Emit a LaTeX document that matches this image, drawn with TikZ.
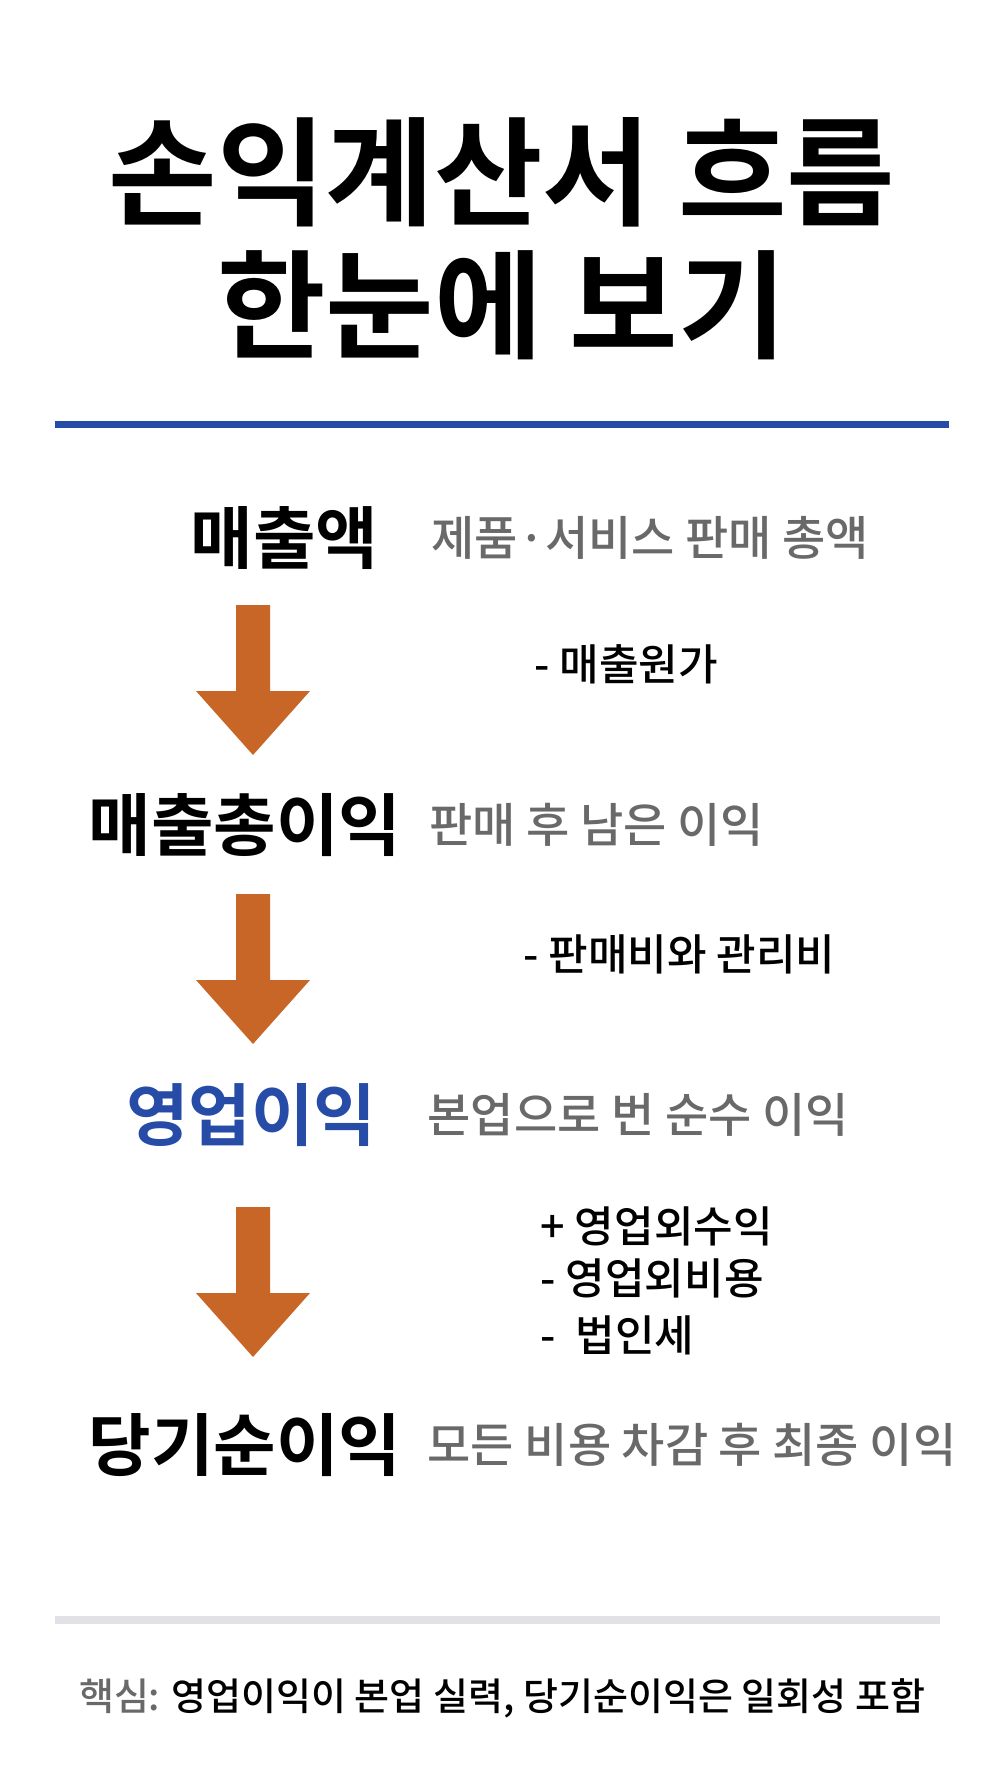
\documentclass[tikz,border=0pt]{standalone}
\usepackage{fontspec}
\setmainfont{Noto Sans CJK KR}
\newfontfamily\krbold{Noto Sans CJK KR Bold}
\newfontfamily\krmed{Noto Sans CJK KR Medium}
\definecolor{flowblue}{RGB}{38,76,168}
\definecolor{flowarrow}{RGB}{200,102,40}
\definecolor{descgray}{RGB}{105,105,105}
\definecolor{rulegray}{RGB}{226,226,230}
\tikzset{every picture/.style={line width=0.75pt}}
\tikzset{
  stage/.style={anchor=east,inner sep=0pt,font=\krbold\fontsize{34}{38}\selectfont},
  desc/.style={anchor=west,inner sep=0pt,text=descgray,font=\krmed\fontsize{23.5}{28}\selectfont},
  step label/.style={anchor=west,inner sep=0pt,font=\krmed\fontsize{21.5}{28}\selectfont,align=left},
}
\newcommand{\flowdown}[1]{%
\fill [flowarrow] (236,#1) -- (270,#1) -- (270,#1+86) -- (310,#1+86) -- (253,#1+150) -- (196,#1+86) -- (236,#1+86) -- cycle ;}

\begin{document}
\begin{tikzpicture}[x=0.5pt,y=-0.5pt]
\fill [white] (0,0) rectangle (1000,1792);
\useasboundingbox (0,0) rectangle (1000,1792);

% Title
\node [font=\krbold\fontsize{59}{66}\selectfont] (titleA) at (502,172) {손익계산서 흐름};
\node [font=\krbold\fontsize{59}{66}\selectfont] (titleB) at (502,305) {한눈에 보기};
\fill [flowblue] (55,421) rectangle (949,428);

% Stages
\node [stage] (sales) at (379,538) {매출액};
\node [desc] (salesD) at (431,538) {제품·서비스 판매 총액};
\flowdown{605}
\node [step label] (cogs) at (534,664) {- 매출원가};

\node [stage] (gross) at (402,825) {매출총이익};
\node [desc] (grossD) at (429,825) {판매 후 남은 이익};
\flowdown{894}
\node [step label] (sga) at (523,954) {- 판매비와 관리비};

\node [stage,text=flowblue] (oper) at (377,1115) {영업이익};
\node [desc] (operD) at (427,1115) {본업으로 번 순수 이익};
\flowdown{1207}
\node [step label] (nonop) at (540,1226) {+ 영업외수익};
\node [step label] (nonopB) at (540,1278) {- 영업외비용};
\node [step label] (tax) at (540,1335) {-~~법인세};

\node [stage] (net) at (402,1445) {당기순이익};
\node [desc] (netD) at (427,1445) {모든 비용 차감 후 최종 이익};

% Footer
\fill [rulegray] (55,1616) rectangle (940,1624);
\node [font=\krmed\fontsize{19}{24}\selectfont] (core) at (502,1698) {\textcolor{descgray}{핵심:} 영업이익이 본업 실력, 당기순이익은 일회성 포함};

\end{tikzpicture}
\end{document}
